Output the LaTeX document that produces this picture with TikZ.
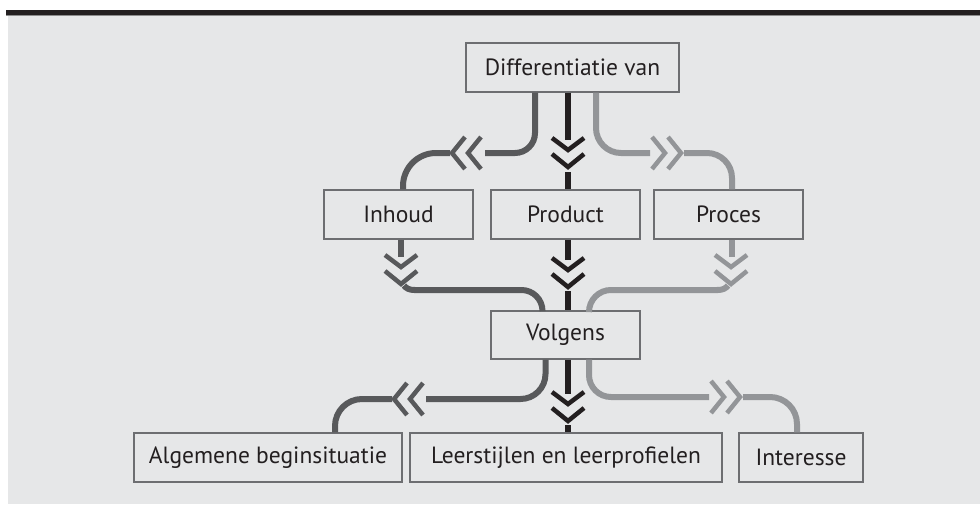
\documentclass[tikz,border=0pt]{standalone}
\usepackage{fontspec}
\setmainfont{PT Sans}
\usetikzlibrary{calc}
\definecolor{bgc}{HTML}{E6E7E8}
\definecolor{barc}{HTML}{231F20}
\definecolor{boxc}{HTML}{6D6E71}
\definecolor{txtc}{HTML}{231F20}
\definecolor{dkc}{HTML}{58595B}
\definecolor{bkc}{HTML}{231F20}
\definecolor{ltc}{HTML}{939598}
\tikzset{
  box/.style={draw=boxc, line width=1.3pt, fill=bgc, minimum height=49pt, inner sep=0pt,
    text=txtc, font=\fontsize{23.5}{27}\selectfont},
  dk/.style={draw=dkc, line width=6pt},
  bk/.style={draw=bkc, line width=6.5pt},
  lt/.style={draw=ltc, line width=6pt},
  chev/.style={line width=4.5pt, miter limit=10}
}
\newcommand\chevD[3]{%
  \draw[chev,draw=#3] (#1,#2) ++(-16,0) -- ++(16,12) -- ++(16,-12);
  \draw[chev,draw=#3] (#1,#2) ++(-16,16) -- ++(16,13) -- ++(16,-13);}
\newcommand\chevL[3]{%
  \draw[chev,draw=#3] (#1,#2) ++(13,-16) -- ++(-13,16) -- ++(13,16);
  \draw[chev,draw=#3] (#1,#2) ++(29,-16) -- ++(-13,16) -- ++(13,16);}
\newcommand\chevR[3]{%
  \draw[chev,draw=#3] (#1,#2) ++(0,-16) -- ++(13,16) -- ++(-13,16);
  \draw[chev,draw=#3] (#1,#2) ++(16,-16) -- ++(13,16) -- ++(-13,16);}
\begin{document}
\begin{tikzpicture}[x=1pt,y=-1pt]
\useasboundingbox (0,0) rectangle (980,504);
\fill[white] (0,0) rectangle (980,504);
\fill[bgc] (7.5,15) rectangle (980,504);
\fill[barc] (6,10) rectangle (980,15);
\fill[black!45] (6,15) rectangle (980,16);

% nodes
\node[box, minimum width=213pt] (D) at (572.5,67.5) {Differentiatie van};
\node[box, minimum width=149pt] (I) at (398.5,214.5) {Inhoud};
\node[box, minimum width=149pt] (P) at (565.5,214.5) {Product};
\node[box, minimum width=149pt] (R) at (728.5,214.5) {Proces};
\node[box, minimum width=149pt, minimum height=48pt] (V) at (565.5,335) {Volgens};
\node[box, minimum width=268pt] (A) at (268,457.5) {Algemene beginsituatie};
\node[box, minimum width=312pt] (L) at (566,457.5) {Leerstijlen en leerprofielen};
\node[box, minimum width=124pt] (T) at (801,457.5) {Interesse};

% row 1
\draw[dk, rounded corners=20pt] ($(D.south)+(-37.5,0)$) |- (485,153);
\chevL{452}{153}{dkc}
\draw[dk, rounded corners=33pt] (450,153) -| ($(I.north)+(4.5,0)$);
\draw[bk] ($(D.south)+(-4.5,0)$) -- (568,140);
\chevD{568}{138}{bkc}
\draw[bk] (568,172) -- ($(P.north)+(2.5,0)$);
\draw[lt, rounded corners=25pt] ($(D.south)+(23.5,0)$) |- (650,153);
\chevR{652}{153}{ltc}
\draw[lt, rounded corners=25pt] (684,153) -| ($(R.north)+(3.5,0)$);

% row 2
\draw[dk] ($(I.south)+(2,0)$) -- (400.5,257);
\chevD{401}{255}{dkc}
\draw[dk] (404,285.5) .. controls (406.5,288.5) and (409,290) .. (415,290);
\draw[dk, rounded corners=21pt] (414,290) -- (542.5,290) -- ($(V.north)+(-23,0)$);
\draw[bk] ($(P.south)+(2.5,0)$) -- (568,260);
\chevD{568}{258}{bkc}
\draw[bk] (568,291) -- ($(V.north)+(2.5,0)$);
\draw[lt] ($(R.south)+(3.5,0)$) -- (732,257);
\chevD{731}{255}{ltc}
\draw[lt] (728,285.5) .. controls (725.5,288.5) and (723,290) .. (717,290);
\draw[lt, rounded corners=22pt] (718,290) -- (589,290) -- ($(V.north)+(23.5,0)$);

% row 3
\draw[dk, rounded corners=25pt] ($(V.south)+(-20,0)$) |- (426,399);
\chevL{394}{399}{dkc}
\draw[dk, rounded corners=27pt] (392,399) -| ($(A.north)+(67,0)$);
\draw[bk] ($(V.south)+(2.5,0)$) -- (568,394);
\chevD{568}{392}{bkc}
\draw[bk] (568,425) -- ($(L.north)+(2,0)$);
\draw[lt, rounded corners=22pt] ($(V.south)+(23.5,0)$) |- (709,397);
\chevR{711}{397}{ltc}
\draw[lt, rounded corners=27pt] (743,397) -| ($(T.north)+(-4,0)$);
\end{tikzpicture}
\end{document}
